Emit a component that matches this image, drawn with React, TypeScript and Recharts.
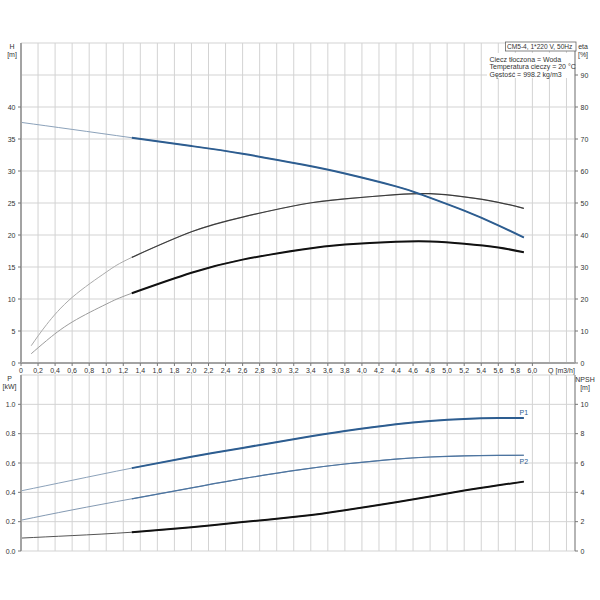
import { CartesianGrid, Line, LineChart, XAxis, YAxis } from 'recharts';

// flow axis (m3/h)
const qTicks = [
  0, 0.2, 0.4, 0.6, 0.8, 1.0, 1.2, 1.4, 1.6, 1.8, 2.0, 2.2, 2.4, 2.6, 2.8, 3.0, 3.2,
  3.4, 3.6, 3.8, 4.0, 4.2, 4.4, 4.6, 4.8, 5.0, 5.2, 5.4, 5.6, 5.8, 6.0, 6.2, 6.4,
];
const hTicks = [0, 5, 10, 15, 20, 25, 30, 35, 40, 45, 50];
const etaTicks = [0, 10, 20, 30, 40, 50, 60, 70, 80, 90, 100];
const pTicks = [0, 0.2, 0.4, 0.6, 0.8, 1.0, 1.2];
const npshTicks = [0, 2, 4, 6, 8, 10, 12];

// head curve
const qH = [0, 0.6, 1.3, 2.0, 2.6, 3.3, 3.8, 4.4, 4.7, 5.2, 5.6, 5.9];
const hValues = [37.6, 36.5, 35.2, 33.9, 32.7, 31.0, 29.6, 27.6, 26.3, 23.8, 21.5, 19.6];

// efficiency curves
const qEta = [0.12, 0.3, 0.6, 1.0, 1.3, 2.0, 2.6, 3.3, 3.8, 4.4, 4.8, 5.2, 5.6, 5.9];
const eta1 = [5.4, 12.0, 20.5, 28.4, 33.0, 41.0, 45.6, 49.6, 51.3, 52.6, 52.9, 51.9, 50.2, 48.3];
const eta2 = [2.9, 7.0, 12.8, 18.4, 21.8, 28.2, 32.3, 35.5, 37.0, 37.9, 38.0, 37.3, 36.1, 34.6];

// power + npsh
const qP = [0, 0.6, 1.3, 2.0, 2.6, 3.3, 3.8, 4.4, 4.8, 5.2, 5.6, 5.9];
const p1 = [0.41, 0.482, 0.565, 0.642, 0.703, 0.772, 0.818, 0.865, 0.887, 0.9, 0.906, 0.907];
const p2 = [0.21, 0.28, 0.356, 0.43, 0.493, 0.556, 0.593, 0.627, 0.641, 0.649, 0.652, 0.653];
const npsh = [0.88, 1.05, 1.28, 1.62, 1.97, 2.38, 2.78, 3.33, 3.72, 4.12, 4.48, 4.73];

const SPLIT_Q = 1.3;

const FONT = '"Liberation Sans", Arial, sans-serif';
const TEXT = '#333';
const TICK = '#777';
const AXIS = '#a3a3a3';
const GRID = '#d3d3d3';
const BLUE = '#2d5d90';

function series(qs: number[], vs: number[]) {
  return qs.map((q, i) => ({ q, v: vs[i] }));
}
function upper(qs: number[], vs: number[]) {
  return series(qs, vs).filter((d) => d.q >= SPLIT_Q);
}

type TickProps = { x: number; y: number; payload: { value: number } };
type Fmt = (v: number) => string | null;

const leftTick = (fmt: Fmt) => (p: TickProps) => {
  const label = fmt(p.payload.value);
  if (label === null) return <g />;
  return (
    <g>
      <line x1={p.x + 2} x2={p.x + 5} y1={p.y} y2={p.y} stroke={TICK} />
      <text x={p.x - 0.5} y={p.y + 2.5} textAnchor="end" fontSize={7} fontFamily={FONT} fill={TEXT}>
        {label}
      </text>
    </g>
  );
};

const rightTick = (fmt: Fmt) => (p: TickProps) => {
  const label = fmt(p.payload.value);
  if (label === null) return <g />;
  return (
    <g>
      <line x1={p.x - 5} x2={p.x - 2} y1={p.y} y2={p.y} stroke={TICK} />
      <text x={p.x + 0.5} y={p.y + 2.5} textAnchor="start" fontSize={7} fontFamily={FONT} fill={TEXT}>
        {label}
      </text>
    </g>
  );
};

const bottomTick = (fmt: Fmt) => (p: TickProps) => {
  const label = fmt(p.payload.value);
  if (label === null) return <g />;
  const isUnit = label.startsWith('Q');
  return (
    <g>
      {!isUnit && <line x1={p.x} x2={p.x} y1={p.y - 5} y2={p.y - 2} stroke={TICK} />}
      <text
        x={isUnit ? p.x - 5 : p.x}
        y={p.y + 5}
        textAnchor="middle"
        fontSize={7}
        fontFamily={FONT}
        fill={TEXT}
      >
        {label}
      </text>
    </g>
  );
};

const near = (a: number, b: number) => Math.abs(a - b) < 1e-6;

const qFmt: Fmt = (v) => {
  if (near(v, 0)) return '0';
  if (v <= 6.0 + 1e-6) return v.toFixed(1).replace('.', ',');
  if (near(v, 6.4)) return 'Q [m3/h]';
  return null;
};
const hFmt: Fmt = (v) => (v <= 40 ? String(v) : null);
const etaFmt: Fmt = (v) => (v <= 90 ? String(v) : null);
const pFmt: Fmt = (v) => (v <= 1.0 + 1e-6 ? v.toFixed(1) : null);
const npshFmt: Fmt = (v) => (v <= 10 ? String(v) : null);

const endLabel = (text: string, dy: number, count: number) => (props: any) => {
  if (props.index !== count - 1) return <g />;
  return (
    <text x={props.x} y={props.y + dy} textAnchor="middle" fontSize={7} fontFamily={FONT} fill={BLUE}>
      {text}
    </text>
  );
};

const lineBase = { type: 'natural' as const, dataKey: 'v', dot: false, isAnimationActive: false };

function TopChart() {
  return (
    <LineChart width={600} height={378} margin={{ top: 43, right: 0, bottom: 1, left: 0 }}>
      <CartesianGrid stroke={GRID} yAxisId="h" />
      <XAxis
        dataKey="q"
        type="number"
        domain={[0, 6.5]}
        ticks={qTicks}
        interval={0}
        allowDataOverflow
        height={14}
        tickSize={3}
        tickMargin={2}
        tickLine={false}
        axisLine={{ stroke: AXIS, strokeWidth: 2 }}
        tick={bottomTick(qFmt)}
      />
      <YAxis
        yAxisId="h"
        type="number"
        domain={[0, 50]}
        ticks={hTicks}
        interval={0}
        width={21}
        tickSize={3}
        tickMargin={2}
        tickLine={false}
        axisLine={{ stroke: AXIS, strokeWidth: 2 }}
        tick={leftTick(hFmt)}
      />
      <YAxis
        yAxisId="eta"
        orientation="right"
        type="number"
        domain={[0, 100]}
        ticks={etaTicks}
        interval={0}
        width={25}
        tickSize={3}
        tickMargin={2}
        tickLine={false}
        axisLine={{ stroke: AXIS, strokeWidth: 1.5 }}
        tick={rightTick(etaFmt)}
      />
      <Line {...lineBase} yAxisId="eta" data={series(qEta, eta1)} stroke="#aaaaaa" strokeWidth={1} />
      <Line {...lineBase} yAxisId="eta" data={upper(qEta, eta1)} stroke="#3c3c3c" strokeWidth={1.2} />
      <Line {...lineBase} yAxisId="eta" data={series(qEta, eta2)} stroke="#9c9c9c" strokeWidth={1} />
      <Line {...lineBase} yAxisId="eta" data={upper(qEta, eta2)} stroke="#111111" strokeWidth={2} />
      <Line {...lineBase} yAxisId="h" data={series(qH, hValues)} stroke="#8ca2ba" strokeWidth={1} />
      <Line {...lineBase} yAxisId="h" data={upper(qH, hValues)} stroke={BLUE} strokeWidth={2} />
    </LineChart>
  );
}

function BottomChart() {
  const p1Upper = upper(qP, p1);
  const p2Upper = upper(qP, p2);
  return (
    <LineChart width={600} height={200} margin={{ top: 10, right: 0, bottom: 14, left: 0 }}>
      <CartesianGrid stroke={GRID} yAxisId="p" />
      <XAxis
        dataKey="q"
        type="number"
        domain={[0, 6.5]}
        ticks={qTicks}
        interval={0}
        allowDataOverflow
        height={0}
        tickLine={false}
        axisLine={{ stroke: AXIS, strokeWidth: 2 }}
        tick={() => <g />}
      />
      <YAxis
        yAxisId="p"
        type="number"
        domain={[0, 1.2]}
        ticks={pTicks}
        interval={0}
        width={21}
        tickSize={3}
        tickMargin={2}
        tickLine={false}
        axisLine={{ stroke: AXIS, strokeWidth: 2 }}
        tick={leftTick(pFmt)}
      />
      <YAxis
        yAxisId="npsh"
        orientation="right"
        type="number"
        domain={[0, 12]}
        ticks={npshTicks}
        interval={0}
        width={25}
        tickSize={3}
        tickMargin={2}
        tickLine={false}
        axisLine={{ stroke: AXIS, strokeWidth: 1.5 }}
        tick={rightTick(npshFmt)}
      />
      <Line {...lineBase} yAxisId="npsh" data={series(qP, npsh)} stroke="#555555" strokeWidth={1} />
      <Line {...lineBase} yAxisId="npsh" data={upper(qP, npsh)} stroke="#111111" strokeWidth={2} />
      <Line {...lineBase} yAxisId="p" data={series(qP, p2)} stroke="#8399b2" strokeWidth={1} />
      <Line
        {...lineBase}
        yAxisId="p"
        data={p2Upper}
        stroke="#4c74a0"
        strokeWidth={1.2}
        label={endLabel('P2', 9, p2Upper.length)}
      />
      <Line {...lineBase} yAxisId="p" data={series(qP, p1)} stroke="#8ca2ba" strokeWidth={1} />
      <Line
        {...lineBase}
        yAxisId="p"
        data={p1Upper}
        stroke={BLUE}
        strokeWidth={2}
        label={endLabel('P1', -3, p1Upper.length)}
      />
    </LineChart>
  );
}

function Overlay() {
  const t = { fontSize: 7, fontFamily: FONT, fill: TEXT };
  return (
    <svg
      width={600}
      height={600}
      style={{ position: 'absolute', left: 0, top: 0, pointerEvents: 'none' }}
    >
      <text x={12} y={48.5} textAnchor="middle" {...t}>H</text>
      <text x={12} y={57} textAnchor="middle" {...t}>[m]</text>
      <text x={583} y={48.5} textAnchor="middle" {...t}>eta</text>
      <text x={583} y={57} textAnchor="middle" {...t}>[%]</text>
      <text x={9.5} y={380.5} textAnchor="middle" {...t}>P</text>
      <text x={9.5} y={389} textAnchor="middle" {...t}>[kW]</text>
      <text x={585} y={381.5} textAnchor="middle" {...t}>NPSH</text>
      <text x={585} y={390} textAnchor="middle" {...t}>[m]</text>

      <rect x={505.5} y={42} width={70.5} height={9} fill="#fff" stroke="#666" strokeWidth={0.8} />
      <text x={507} y={49.3} {...t} fontSize={6.6}>CM5-4, 1*220 V, 50Hz</text>
      <rect x={487} y={53} width={87} height={25} fill="#fff" />
      <text x={489.5} y={61.5} {...t}>Ciecz tłoczona = Woda</text>
      <text x={489.5} y={69} {...t}>Temperatura cieczy = 20 °C</text>
      <text x={489.5} y={76.5} {...t}>Gęstość = 998.2 kg/m3</text>
    </svg>
  );
}

export default function App() {
  return (
    <div style={{ position: 'absolute', left: 0, top: 0, width: 600, height: 600, background: '#fff' }}>
      <div style={{ position: 'absolute', left: 0, top: 0 }}>
        <TopChart />
      </div>
      <div style={{ position: 'absolute', left: 0, top: 365 }}>
        <BottomChart />
      </div>
      <Overlay />
    </div>
  );
}
